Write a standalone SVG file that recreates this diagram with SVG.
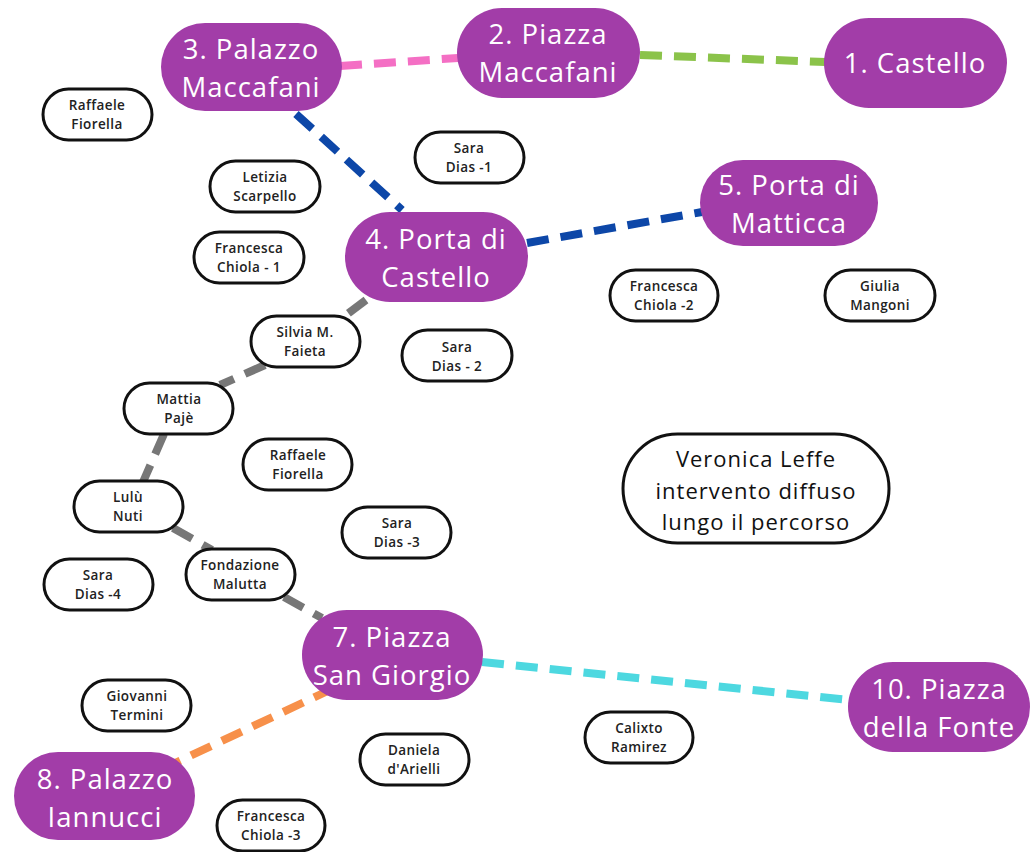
<svg xmlns="http://www.w3.org/2000/svg" width="1036" height="852" viewBox="0 0 1036 852">
<style>
.p{fill:#A23DA8}
.pt{fill:#fff;font-family:"Open Sans","Liberation Sans",sans-serif;font-size:27.5px;letter-spacing:1px;text-anchor:middle}
.w{fill:#fff;stroke:#111;stroke-width:3}
.wt{fill:#222;font-family:"Open Sans","Liberation Sans",sans-serif;font-size:13.5px;font-weight:600;letter-spacing:0.4px;text-anchor:middle}
.vt{fill:#111;font-family:"Open Sans","Liberation Sans",sans-serif;font-size:22px;letter-spacing:1px;text-anchor:middle}
.c{fill:none;stroke-width:8;stroke-dasharray:22 12}
</style>
<rect width="1036" height="852" fill="#fff"/>
<g id="connectors">
<line class="c" x1="340" y1="66" x2="458" y2="58" stroke="#F46FC4"/>
<line class="c" x1="640" y1="55" x2="826" y2="62" stroke="#8BC34A"/>
<line class="c" x1="296" y1="114" x2="402" y2="210" stroke="#0D47A8"/>
<line class="c" x1="527" y1="243" x2="702" y2="212" stroke="#0D47A8"/>
<line class="c" x1="366" y1="300" x2="342" y2="318" stroke="#777"/>
<line class="c" x1="265" y1="365" x2="220" y2="385" stroke="#777"/>
<line class="c" x1="164" y1="434" x2="143" y2="482" stroke="#777"/>
<line class="c" x1="173" y1="528" x2="212" y2="550" stroke="#777"/>
<line class="c" x1="284" y1="597" x2="322" y2="618" stroke="#777"/>
<line class="c" x1="334" y1="688" x2="175" y2="763" stroke="#F7904A"/>
<line class="c" x1="482" y1="662" x2="850" y2="700" stroke="#4DD8E0"/>
</g>
<g id="n1"><rect class="p" x="824" y="18" width="183" height="90" rx="45"/><text class="pt" x="915" y="73">1. Castello</text></g>
<g id="n2"><rect class="p" x="457" y="8" width="183" height="90" rx="45"/><text class="pt" x="548" y="44">2. Piazza</text><text class="pt" x="548" y="82">Maccafani</text></g>
<g id="n3"><rect class="p" x="161" y="23" width="181" height="88" rx="44"/><text class="pt" x="251" y="59">3. Palazzo</text><text class="pt" x="251" y="97">Maccafani</text></g>
<g id="n4"><rect class="p" x="345" y="212" width="183" height="90" rx="45"/><text class="pt" x="436" y="249">4. Porta di</text><text class="pt" x="436" y="287">Castello</text></g>
<g id="n5"><rect class="p" x="700" y="160" width="178" height="86" rx="43"/><text class="pt" x="789" y="195">5. Porta di</text><text class="pt" x="789" y="233">Matticca</text></g>
<g id="n7"><rect class="p" x="302" y="610" width="181" height="90" rx="45"/><text class="pt" x="392" y="647">7. Piazza</text><text class="pt" x="392" y="685">San Giorgio</text></g>
<g id="n8"><rect class="p" x="14" y="752" width="181" height="88" rx="44"/><text class="pt" x="105" y="789">8. Palazzo</text><text class="pt" x="105" y="827">Iannucci</text></g>
<g id="n10"><rect class="p" x="848" y="662" width="182" height="90" rx="45"/><text class="pt" x="939" y="699">10. Piazza</text><text class="pt" x="939" y="737">della Fonte</text></g>
<g id="raffaele1"><rect class="w" x="43" y="89" width="109" height="51" rx="25.5"/><text class="wt" x="97" y="110">Raffaele</text><text class="wt" x="97" y="129">Fiorella</text></g>
<g id="sara1"><rect class="w" x="415" y="132" width="109" height="51" rx="25.5"/><text class="wt" x="469" y="153">Sara</text><text class="wt" x="469" y="172">Dias -1</text></g>
<g id="letizia"><rect class="w" x="210" y="161" width="110" height="51" rx="25.5"/><text class="wt" x="265" y="182">Letizia</text><text class="wt" x="265" y="201">Scarpello</text></g>
<g id="francesca1"><rect class="w" x="194" y="232" width="110" height="51" rx="25.5"/><text class="wt" x="249" y="253">Francesca</text><text class="wt" x="249" y="272">Chiola - 1</text></g>
<g id="francesca2"><rect class="w" x="610" y="270" width="108" height="51" rx="25.5"/><text class="wt" x="664" y="291">Francesca</text><text class="wt" x="664" y="310">Chiola -2</text></g>
<g id="giulia"><rect class="w" x="825" y="270" width="110" height="51" rx="25.5"/><text class="wt" x="880" y="291">Giulia</text><text class="wt" x="880" y="310">Mangoni</text></g>
<g id="silvia"><rect class="w" x="251" y="316" width="109" height="51" rx="25.5"/><text class="wt" x="305" y="337">Silvia M.</text><text class="wt" x="305" y="356">Faieta</text></g>
<g id="sara2"><rect class="w" x="402" y="330" width="110" height="51" rx="25.5"/><text class="wt" x="457" y="352">Sara</text><text class="wt" x="457" y="371">Dias - 2</text></g>
<g id="mattia"><rect class="w" x="124" y="383" width="109" height="51" rx="25.5"/><text class="wt" x="179" y="404">Mattia</text><text class="wt" x="179" y="423">Pajè</text></g>
<g id="raffaele2"><rect class="w" x="243" y="439" width="109" height="51" rx="25.5"/><text class="wt" x="298" y="460">Raffaele</text><text class="wt" x="298" y="479">Fiorella</text></g>
<g id="lulu"><rect class="w" x="74" y="481" width="109" height="51" rx="25.5"/><text class="wt" x="128" y="502">Lulù</text><text class="wt" x="128" y="521">Nuti</text></g>
<g id="sara3"><rect class="w" x="342" y="507" width="109" height="51" rx="25.5"/><text class="wt" x="397" y="528">Sara</text><text class="wt" x="397" y="547">Dias -3</text></g>
<g id="sara4"><rect class="w" x="44" y="559" width="109" height="51" rx="25.5"/><text class="wt" x="98" y="580">Sara</text><text class="wt" x="98" y="599">Dias -4</text></g>
<g id="fondazione"><rect class="w" x="186" y="549" width="109" height="51" rx="25.5"/><text class="wt" x="240" y="570">Fondazione</text><text class="wt" x="240" y="589">Malutta</text></g>
<g id="giovanni"><rect class="w" x="82" y="680" width="109" height="51" rx="25.5"/><text class="wt" x="137" y="701">Giovanni</text><text class="wt" x="137" y="720">Termini</text></g>
<g id="daniela"><rect class="w" x="360" y="734" width="109" height="51" rx="25.5"/><text class="wt" x="414" y="755">Daniela</text><text class="wt" x="414" y="774">d'Arielli</text></g>
<g id="calixto"><rect class="w" x="585" y="712" width="108" height="51" rx="25.5"/><text class="wt" x="639" y="733">Calixto</text><text class="wt" x="639" y="752">Ramirez</text></g>
<g id="francesca3"><rect class="w" x="217" y="800" width="108" height="51" rx="25.5"/><text class="wt" x="271" y="821">Francesca</text><text class="wt" x="271" y="840">Chiola -3</text></g>
<g id="veronica"><rect class="w" x="623" y="434" width="266" height="109" rx="54.5"/><text class="vt" x="756" y="467">Veronica Leffe</text><text class="vt" x="756" y="499">intervento diffuso</text><text class="vt" x="756" y="530">lungo il percorso</text></g>
</svg>
